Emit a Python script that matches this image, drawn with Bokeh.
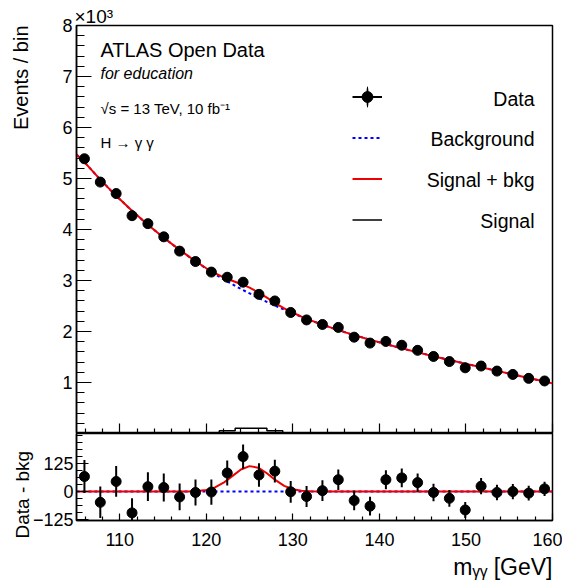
import numpy as np
from bokeh.plotting import figure
from bokeh.layouts import column
from bokeh.models import (ColumnDataSource, Label, Legend, LegendItem, Title,
                          FixedTicker, Span, Range1d, LinearAxis)
from bokeh.embed import file_html
from bokeh.resources import INLINE

FONT = "Liberation Sans"

# ---------------- data ----------------
x_lo, x_hi, n_bins = 105.0, 160.0, 30
data_counts = [5387, 4930, 4705, 4271, 4115, 3856, 3576, 3372, 3165, 3064,
               2967, 2728, 2599, 2373, 2227, 2138, 2080, 1889, 1773, 1805,
               1731, 1631, 1511, 1411, 1288, 1323, 1224, 1158, 1081, 1030]
# background fit evaluated at the bin centres
bkg_at_centres = [5320, 4978, 4660, 4366, 4093, 3838, 3600, 3376, 3167, 2981,
                  2811, 2654, 2508, 2374, 2249, 2134, 2027, 1929, 1838, 1752,
                  1670, 1591, 1515, 1441, 1370, 1299, 1228, 1158, 1088, 1018]
bkg_at_edges = [5470, 983]          # fit value at 105 and 160 GeV
# signal (Gaussian) fit curve
sig_curve_x = [105, 117, 118, 119, 120, 121, 122, 123, 124, 125, 126, 127,
               128, 129, 130, 131, 132, 133, 134, 160]
sig_curve_y = [0, 0.1, 0.5, 2.2, 7.0, 18.4, 39.6, 69.1, 98.3, 113.5, 106.7,
               81.6, 50.7, 25.7, 10.5, 3.5, 1.0, 0.2, 0.0, 0.0]
# signal histogram per bin
sig_hist = [0, 0, 0, 0, 0, 0, 0, 1, 13, 52, 104, 104, 52, 13, 1,
            0, 0, 0, 0, 0, 0, 0, 0, 0, 0, 0, 0, 0, 0, 0]

legend_labels = ["Data", "Background", "Signal + bkg", "Signal"]

x_major = [110, 120, 130, 140, 150, 160]
x_minor = [106, 108, 112, 114, 116, 118, 122, 124, 126, 128, 132, 134, 136,
           138, 142, 144, 146, 148, 152, 154, 156, 158]
y_major = [1000, 2000, 3000, 4000, 5000, 6000, 7000, 8000]
y_major_labels = ["1", "2", "3", "4", "5", "6", "7", "8"]
y_minor = list(range(200, 8001, 200))
r_major = [-125, 0, 125]
r_major_labels = ["\u2212125", "0", "125"]
r_minor = [-93.75, -62.5, -31.25, 31.25, 62.5, 93.75, 156.25, 187.5, 218.75, 250]

# ---------------- derived ----------------
edges = np.linspace(x_lo, x_hi, n_bins + 1)
centres = 0.5 * (edges[:-1] + edges[1:])
data = np.array(data_counts, dtype=float)
err = np.sqrt(data)
bkg_c = np.array(bkg_at_centres, dtype=float)
resid = data - bkg_c

bkg_x = np.concatenate([[x_lo], centres, [x_hi]])
bkg_y = np.concatenate([[bkg_at_edges[0]], bkg_c, [bkg_at_edges[1]]])
all_x = np.unique(np.concatenate([bkg_x, np.array(sig_curve_x, float)]))
sb_y = np.interp(all_x, bkg_x, bkg_y) + np.interp(all_x, sig_curve_x, sig_curve_y)

src = ColumnDataSource(dict(x=centres, y=data, lo=data - err, hi=data + err,
                            r=resid, rlo=resid - err, rhi=resid + err))


def style_axis(ax, tick_in, minor_in, size="18px", standoff=4):
    ax.major_tick_in = tick_in
    ax.major_tick_out = 0
    ax.minor_tick_in = minor_in
    ax.minor_tick_out = 0
    ax.major_label_text_font = FONT
    ax.major_label_text_font_size = size
    ax.major_label_text_color = "black"
    ax.major_label_standoff = standoff
    ax.axis_line_width = 1.5
    ax.axis_line_color = "black"
    ax.major_tick_line_color = "black"
    ax.minor_tick_line_color = "black"
    ax.major_tick_line_width = 1.2
    ax.minor_tick_line_width = 1.2


def title(text, align, standoff, size, offset=0):
    return Title(text=text, align=align, standoff=standoff, offset=offset,
                 text_font=FONT, text_font_size=size,
                 text_font_style="normal", text_color="black")


# ---------------- top panel ----------------
p = figure(width=562, height=433, x_range=Range1d(x_lo, x_hi),
           y_range=Range1d(0, 8000), output_backend="svg", title=None,
           toolbar_location=None, min_border_left=76, min_border_right=10,
           min_border_top=25, min_border_bottom=0)
p.grid.visible = False
p.outline_line_color = "black"
p.outline_line_width = 1.5
p.border_fill_color = "white"

p.xaxis.ticker = FixedTicker(ticks=x_major, minor_ticks=x_minor)
style_axis(p.xaxis, 10, 5, size="0px", standoff=0)
p.xaxis.major_label_text_color = None

p.yaxis.ticker = FixedTicker(ticks=y_major, minor_ticks=y_minor)
p.yaxis.major_label_overrides = dict(zip(y_major, y_major_labels))
style_axis(p.yaxis, 15, 8, standoff=4)

# invisible spacer (white, outward tick at y=0) between tick labels and title
spacer = LinearAxis(ticker=FixedTicker(ticks=[0], minor_ticks=[]),
                    major_tick_out=23, major_tick_in=0, minor_tick_out=0,
                    minor_tick_in=0, major_tick_line_color="white",
                    axis_line_color=None, major_label_text_font_size="0px",
                    major_label_text_color=None, major_label_standoff=0)
p.add_layout(spacer, "left")
p.add_layout(title("Events / bin", "right", 10, "20px"), "left")
p.add_layout(title("\u00d710\u00b3", "left", -3, "19px", offset=-2), "above")

sig_step = p.step(x=edges, y=sig_hist + [sig_hist[-1]], mode="after",
                  line_color="black", line_width=1.5)
bkg_line = p.line(bkg_x, bkg_y, line_color="blue", line_width=2,
                  line_dash="3 3")
sb_line = p.line(all_x, sb_y, line_color="#ee0000", line_width=2)
err_seg = p.segment(x0="x", y0="lo", x1="x", y1="hi", source=src,
                    line_color="black", line_width=2)
# thin vertical ellipse hidden under each marker: gives the vertical arm of
# the "Data" legend symbol
v_arm = p.ellipse(x="x", y="y", source=src, width=1, height=10,
                  width_units="screen", height_units="screen",
                  fill_color="black", line_color=None)
dots = p.scatter("x", "y", source=src, size=10, color="black")

legA = Legend(items=[LegendItem(label=legend_labels[0],
                                renderers=[err_seg, v_arm, dots]),
                     LegendItem(label=legend_labels[1], renderers=[bkg_line]),
                     LegendItem(label=legend_labels[2], renderers=[sb_line]),
                     LegendItem(label=legend_labels[3], renderers=[sig_step])],
              location=(276, 200), glyph_width=30, glyph_height=27,
              spacing=14, padding=0, margin=0, border_line_alpha=0,
              background_fill_alpha=0, label_text_color=None,
              label_text_font_size="10px", label_standoff=0)
p.add_layout(legA)


def lab(fig, text, x, y, xo, yo, size, style="normal", align="left",
        baseline="middle"):
    fig.add_layout(Label(x=x, y=y, x_offset=xo, y_offset=yo, text=text,
                         text_font=FONT, text_font_size=size,
                         text_font_style=style, text_align=align,
                         text_baseline=baseline, text_color="black"))


lab(p, "ATLAS Open Data", x_lo, 8000, 24, -24, "20px")
lab(p, "for education", x_lo, 8000, 24, -48, "16px", style="italic")
lab(p, "\u221as = 13 TeV, 10 fb\u207b\u00b9", x_lo, 8000, 24, -83, "15px")
lab(p, "H \u2192 \u03b3 \u03b3", x_lo, 8000, 24, -117, "15px")
for i, t in enumerate(legend_labels):
    lab(p, t, x_hi, 8000, -18, -(73 + 40.7 * i), "19.5px", align="right")

# ---------------- bottom panel ----------------
q = figure(width=562, height=153, x_range=p.x_range,
           y_range=Range1d(-129, 259), output_backend="svg", title=None,
           toolbar_location=None, min_border_left=76, min_border_right=10,
           min_border_top=0, min_border_bottom=66)
q.grid.visible = False
q.outline_line_color = "black"
q.outline_line_width = 1.5
q.border_fill_color = "white"

q.add_layout(title("Data - bkg", "left", -6, "19px", offset=-18), "left")
q.add_layout(title("m\u1d67\u1d67 [GeV]", "right", 6, "23px"), "below")

q.xaxis.ticker = FixedTicker(ticks=x_major, minor_ticks=x_minor)
style_axis(q.xaxis, 7, 4, standoff=12)

q.yaxis.ticker = FixedTicker(ticks=r_major, minor_ticks=r_minor)
q.yaxis.major_label_overrides = dict(zip(r_major, r_major_labels))
style_axis(q.yaxis, 12, 6, standoff=3)

q.add_layout(Span(location=0, dimension="width", line_color="blue",
                  line_width=2, line_dash="3 3", level="underlay"))
q.line(sig_curve_x, sig_curve_y, line_color="#ee0000", line_width=2)
q.segment(x0="x", y0="rlo", x1="x", y1="rhi", source=src, line_color="black",
          line_width=2)
q.scatter("x", "r", source=src, size=10, color="black")

layout = column(p, q, spacing=0)
open("out.html", "w").write(file_html(layout, INLINE))
